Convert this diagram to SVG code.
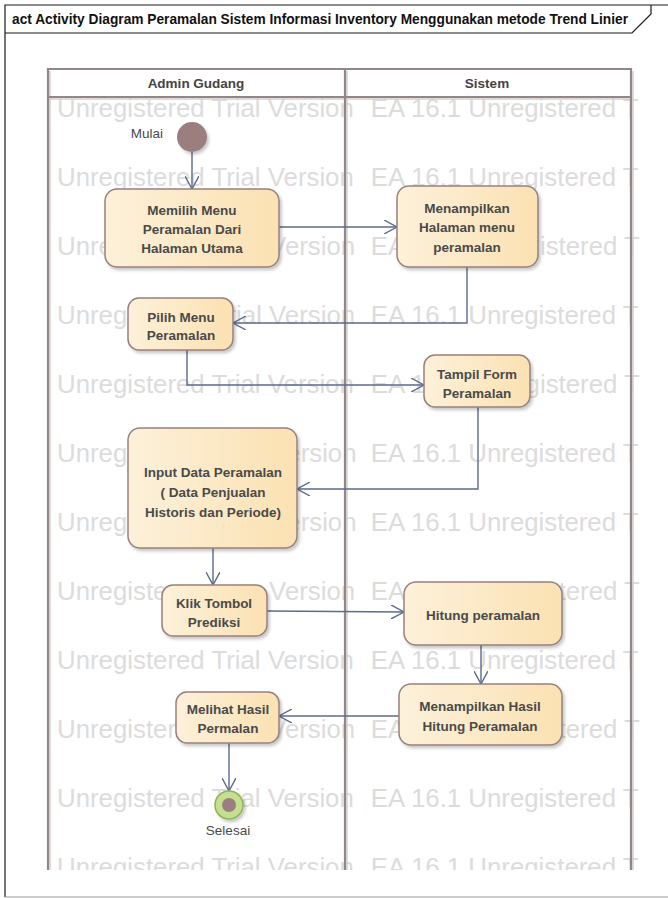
<svg xmlns="http://www.w3.org/2000/svg" width="668" height="898" viewBox="0 0 668 898">
<defs>
<style>
.frame{fill:none;stroke:#1a1a1a;stroke-width:1.2}
.lane{fill:none;stroke:#938686;stroke-width:2.2}
.laneSh{fill:none;stroke:#d6cfcf;stroke-width:1.5}
.wm{font-family:"Liberation Sans",Arial,sans-serif;font-size:25.8px;fill:#dcdcdc}
.node{fill:url(#nodeFill);stroke:#9a807c;stroke-width:1.5;filter:url(#sh)}
.t{font-family:"Liberation Sans",Arial,sans-serif;font-size:13.5px;font-weight:bold;fill:#4a4a4a;text-anchor:middle}
.lbl{font-family:"Liberation Sans",Arial,sans-serif;font-size:13.5px;fill:#4a4a4a}
.hdr{font-family:"Liberation Sans",Arial,sans-serif;font-size:13.5px;font-weight:bold;fill:#444;text-anchor:middle}
.title{font-family:"Liberation Sans",Arial,sans-serif;font-size:14px;font-weight:bold;fill:#111}
.c{fill:none;stroke:#5b6b8c;stroke-width:1.4}
</style>
<linearGradient id="nodeFill" x1="0" y1="0" x2="1" y2="0">
<stop offset="0" stop-color="#fdf1da"/>
<stop offset="1" stop-color="#fbe1b2"/>
</linearGradient>
<filter id="sh" x="-10%" y="-10%" width="130%" height="140%">
<feDropShadow dx="2" dy="2.5" stdDeviation="1.5" flood-color="#000" flood-opacity="0.22"/>
</filter>
<marker id="arr" viewBox="0 0 14 14" refX="13" refY="7" markerWidth="14" markerHeight="14" markerUnits="userSpaceOnUse" orient="auto">
<path d="M0,0 L13,7 L0,14" fill="none" stroke="#5b6b8c" stroke-width="1.4"/>
</marker>
<clipPath id="wmClip"><rect x="40" y="97" width="600" height="773"/></clipPath>
</defs>
<rect x="0" y="0" width="668" height="898" fill="#fff"/>
<g id="frame">
<path class="frame" d="M5,897 V5 H668"/>
<path d="M5,897 H668" fill="none" stroke="#9a9a9a" stroke-width="1.2"/>
<path class="frame" d="M5,33 H632 L651,14 V5"/>
<text class="title" x="12" y="24" textLength="616" lengthAdjust="spacingAndGlyphs">act Activity Diagram Peramalan Sistem Informasi Inventory Menggunakan metode Trend  Linier</text>
</g>
<g id="watermark" clip-path="url(#wmClip)">
<text class="wm" x="57" y="117">Unregistered Trial Version</text><text class="wm" x="370.8" y="117">EA 16.1 Unregistered T</text>
<text class="wm" x="57" y="186">Unregistered Trial Version</text><text class="wm" x="370.8" y="186">EA 16.1 Unregistered T</text>
<text class="wm" x="57" y="255">Unre</text><text class="wm" x="269.1" y="255">Version</text><text class="wm" x="370.8" y="255">EA</text><text class="wm" x="525.6" y="255">gistered T</text>
<text class="wm" x="57" y="324">Unreg</text><text class="wm" x="227.5" y="324">rial Version</text><text class="wm" x="370.8" y="324">EA 16.1 Unregistered T</text>
<text class="wm" x="57" y="393">Unregistered Trial Version</text><text class="wm" x="370.8" y="393">EA 1</text><text class="wm" x="525.6" y="393">gistered T</text>
<text class="wm" x="57" y="462">Unreg</text><text class="wm" x="286.3" y="462">ersion</text><text class="wm" x="370.8" y="462">EA 16.1 Unregistered T</text>
<text class="wm" x="57" y="531">Unreg</text><text class="wm" x="286.3" y="531">ersion</text><text class="wm" x="370.8" y="531">EA 16.1 Unregistered T</text>
<text class="wm" x="57" y="600">Unregiste</text><text class="wm" x="269.1" y="600">Version</text><text class="wm" x="370.8" y="600">EA</text><text class="wm" x="558.6" y="600">tered T</text>
<text class="wm" x="57" y="669">Unregistered Trial Version</text><text class="wm" x="370.8" y="669">EA 16.1 Unregistered T</text>
<text class="wm" x="57" y="738">Unregister</text><text class="wm" x="269.1" y="738">Version</text><text class="wm" x="370.8" y="738">EA</text><text class="wm" x="558.6" y="738">tered T</text>
<text class="wm" x="57" y="807">Unregistered Trial Version</text><text class="wm" x="370.8" y="807">EA 16.1 Unregistered T</text>
<text class="wm" x="57" y="876">Unregistered Trial Version</text><text class="wm" x="370.8" y="876">EA 16.1 Unregistered T</text>
</g>
<g id="lanes">
<path class="laneSh" d="M50,71 V870 M347,71 V870 M633,71 V870 M50,99 H633"/>
<path class="lane" d="M48,870 V69 H631 V870 M345,69 V870 M48,97 H631"/>
<text class="hdr" x="196" y="88">Admin Gudang</text>
<text class="hdr" x="487" y="88">Sistem</text>
</g>
<g id="connectors">
<path class="c" d="M192,152 V189" marker-end="url(#arr)"/>
<path class="c" d="M279,227 H397" marker-end="url(#arr)"/>
<path class="c" d="M467,267 V323 H233" marker-end="url(#arr)"/>
<path class="c" d="M187,350 V385 H424" marker-end="url(#arr)"/>
<path class="c" d="M478,407 V489 H297" marker-end="url(#arr)"/>
<path class="c" d="M213,548 V585" marker-end="url(#arr)"/>
<path class="c" d="M267,611 L404,612" marker-end="url(#arr)"/>
<path class="c" d="M481,645 V684" marker-end="url(#arr)"/>
<path class="c" d="M399,716 H279" marker-end="url(#arr)"/>
<path class="c" d="M229,743 V791" marker-end="url(#arr)"/>
</g>
<g id="start">
<circle cx="192" cy="137" r="15" fill="#9a7f7e" filter="url(#sh)"/>
<text class="lbl" x="163" y="138" text-anchor="end">Mulai</text>
</g>
<g id="n1">
<rect class="node" x="105" y="189" width="174" height="78" rx="12"/>
<text class="t" x="192" y="215">Memilih Menu</text>
<text class="t" x="192" y="234">Peramalan Dari</text>
<text class="t" x="192" y="253">Halaman Utama</text>
</g>
<g id="n2">
<rect class="node" x="397" y="186" width="141" height="81" rx="12"/>
<text class="t" x="467" y="213">Menampilkan</text>
<text class="t" x="467" y="232">Halaman menu</text>
<text class="t" x="467" y="252">peramalan</text>
</g>
<g id="n3">
<rect class="node" x="128" y="298" width="105" height="52" rx="11"/>
<text class="t" x="181" y="322">Pilih Menu</text>
<text class="t" x="181" y="340">Peramalan</text>
</g>
<g id="n4">
<rect class="node" x="424" y="355" width="106" height="52" rx="11"/>
<text class="t" x="477" y="379">Tampil Form</text>
<text class="t" x="477" y="398">Peramalan</text>
</g>
<g id="n5">
<rect class="node" x="128" y="428" width="169" height="120" rx="12"/>
<text class="t" x="213" y="477">Input Data Peramalan</text>
<text class="t" x="213" y="497">( Data Penjualan</text>
<text class="t" x="213" y="517">Historis dan Periode)</text>
</g>
<g id="n6">
<rect class="node" x="162" y="585" width="105" height="51" rx="11"/>
<text class="t" x="214" y="608">Klik Tombol</text>
<text class="t" x="214" y="627">Prediksi</text>
</g>
<g id="n7">
<rect class="node" x="404" y="582" width="158" height="63" rx="12"/>
<text class="t" x="483" y="620">Hitung peramalan</text>
</g>
<g id="n8">
<rect class="node" x="399" y="684" width="163" height="61" rx="12"/>
<text class="t" x="480" y="711">Menampilkan Hasil</text>
<text class="t" x="480" y="731">Hitung Peramalan</text>
</g>
<g id="n9">
<rect class="node" x="176" y="692" width="103" height="51" rx="11"/>
<text class="t" x="228" y="714">Melihat Hasil</text>
<text class="t" x="228" y="733">Permalan</text>
</g>
<g id="end">
<circle cx="229" cy="805" r="14" fill="#c5de8f" stroke="#8fb456" stroke-width="1.5" filter="url(#sh)"/>
<circle cx="229" cy="805" r="7" fill="#9a7f7e"/>
<text class="lbl" x="228" y="835" text-anchor="middle">Selesai</text>
</g>
</svg>
